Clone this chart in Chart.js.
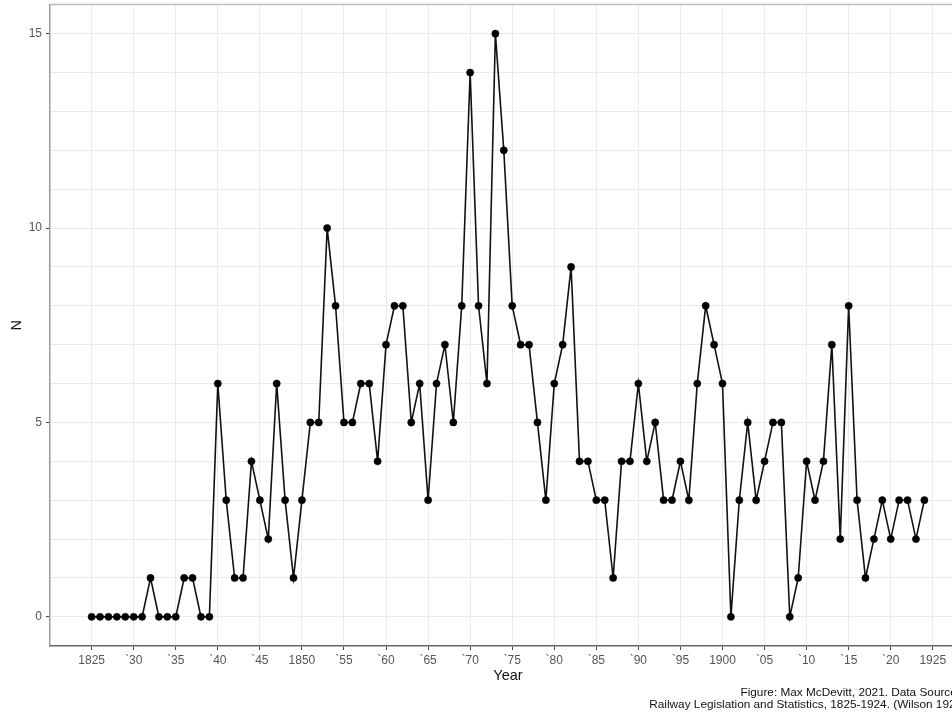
<!DOCTYPE html>
<html>
<head>
<meta charset="utf-8">
<script src="https://cdn.jsdelivr.net/npm/chart.js@4.4.1/dist/chart.umd.min.js"></script>
<style>
  html, body { margin: 0; padding: 0; background: #fff; overflow: hidden; width: 952px; height: 715px; }
  #wrap { position: absolute; left: 0; top: 0; width: 975px; height: 715px; }
</style>
</head>
<body>
<div id="wrap"><canvas id="c" width="975" height="715"></canvas></div>
<script>
// Railway acts per year, 1825-1924
const firstYear = 1825;
const counts = [
  0, 0, 0, 0, 0, 0, 0, 1, 0, 0,      // 1825-1834
  0, 1, 1, 0, 0, 6, 3, 1, 1, 4,      // 1835-1844
  3, 2, 6, 3, 1, 3, 5, 5, 10, 8,     // 1845-1854
  5, 5, 6, 6, 4, 7, 8, 8, 5, 6,      // 1855-1864
  3, 6, 7, 5, 8, 14, 8, 6, 15, 12,   // 1865-1874
  8, 7, 7, 5, 3, 6, 7, 9, 4, 4,      // 1875-1884
  3, 3, 1, 4, 4, 6, 4, 5, 3, 3,      // 1885-1894
  4, 3, 6, 8, 7, 6, 0, 3, 5, 3,      // 1895-1904
  4, 5, 5, 0, 1, 4, 3, 4, 7, 2,      // 1905-1914
  8, 3, 1, 2, 3, 2, 3, 3, 2, 3       // 1915-1924
];
const years = counts.map((_, i) => firstYear + i);

const xTickValues = [1825, 1830, 1835, 1840, 1845, 1850, 1855, 1860, 1865, 1870, 1875,
                     1880, 1885, 1890, 1895, 1900, 1905, 1910, 1915, 1920, 1925];
const xTickLabels = ['1825', '`30', '`35', '`40', '`45', '1850', '`55', '`60', '`65', '`70', '`75',
                     '`80', '`85', '`90', '`95', '1900', '`05', '`10', '`15', '`20', '1925'];
const yGridValues = [0, 1, 2, 3, 4, 5, 6, 7, 8, 9, 10, 11, 12, 13, 14, 15];
const yTickLabels = ['0', '5', '10', '15'];

const captionLines = [
  'Figure: Max McDevitt, 2021. Data Sources:',
  'Railway Legislation and Statistics, 1825-1924. (Wilson 1925)'
];

const FONT = "'Liberation Sans', Arial, sans-serif";
const TICK_GREY = '#555555';
const GRID_GREY = '#ebebeb';

// frame around the panel plus the caption below it
const panelExtras = {
  id: 'panelExtras',
  afterDraw(chart) {
    const { ctx, chartArea: a } = chart;
    ctx.save();
    ctx.strokeStyle = '#bdbdbd';
    ctx.lineWidth = 1.5;
    ctx.beginPath();
    ctx.moveTo(a.left, a.top);
    ctx.lineTo(a.right, a.top);
    ctx.lineTo(a.right, a.bottom);
    ctx.stroke();

    ctx.fillStyle = '#111';
    ctx.font = `11.8px ${FONT}`;
    ctx.textAlign = 'right';
    ctx.textBaseline = 'middle';
    ctx.fillText(captionLines[0], a.right, 693);
    ctx.fillText(captionLines[1], a.right, 705);
    ctx.restore();
  }
};

new Chart(document.getElementById('c'), {
  type: 'line',
  data: {
    datasets: [{
      data: years.map((y, i) => ({ x: y, y: counts[i] })),
      borderColor: '#111',
      borderWidth: 1.6,
      pointRadius: 3.6,
      pointBackgroundColor: '#000',
      pointBorderColor: '#000',
      pointBorderWidth: 0.5,
      tension: 0,
      fill: false
    }]
  },
  options: {
    responsive: false,
    animation: false,
    devicePixelRatio: 1,
    layout: { padding: { left: 0, top: 4, right: 9, bottom: 0 } },
    plugins: { legend: { display: false }, tooltip: { enabled: false }, title: { display: false } },
    scales: {
      x: {
        type: 'linear',
        min: 1820.05,
        max: 1928.95,
        afterBuildTicks: (s) => { s.ticks = xTickValues.map(v => ({ value: v })); },
        afterFit: (s) => { s.height = 69; s.paddingLeft = 0; s.paddingRight = 0; },
        ticks: {
          autoSkip: false,
          maxRotation: 0,
          padding: 3,
          color: TICK_GREY,
          font: { family: FONT, size: 12 },
          callback: (v) => xTickLabels[xTickValues.indexOf(v)]
        },
        grid: { color: GRID_GREY, lineWidth: 1, tickLength: 4, tickColor: '#444', tickWidth: 1 },
        border: { display: true, color: '#666', width: 1.5 },
        title: {
          display: true,
          text: 'Year',
          color: '#111',
          font: { family: FONT, size: 14.5 },
          padding: { top: 0, bottom: 30 }
        }
      },
      y: {
        type: 'linear',
        min: -0.75,
        max: 15.75,
        afterBuildTicks: (s) => { s.ticks = yGridValues.map(v => ({ value: v })); },
        afterFit: (s) => { s.width = 50; s.paddingTop = 0; s.paddingBottom = 0; },
        ticks: {
          autoSkip: false,
          padding: 4,
          color: TICK_GREY,
          font: { family: FONT, size: 12 },
          callback: (v) => (yTickLabels.includes(String(v)) ? String(v) : '')
        },
        grid: {
          color: GRID_GREY,
          lineWidth: 1,
          tickLength: 4,
          tickWidth: 1,
          tickColor: (ctx) => (ctx.tick && yTickLabels.includes(String(ctx.tick.value)) ? '#444' : 'rgba(0,0,0,0)')
        },
        border: { display: true, color: '#999', width: 1.5 },
        title: {
          display: true,
          text: 'N',
          color: '#111',
          font: { family: FONT, size: 14.5 },
          padding: { top: 8, bottom: 0 }
        }
      }
    }
  },
  plugins: [panelExtras]
});
</script>
</body>
</html>
